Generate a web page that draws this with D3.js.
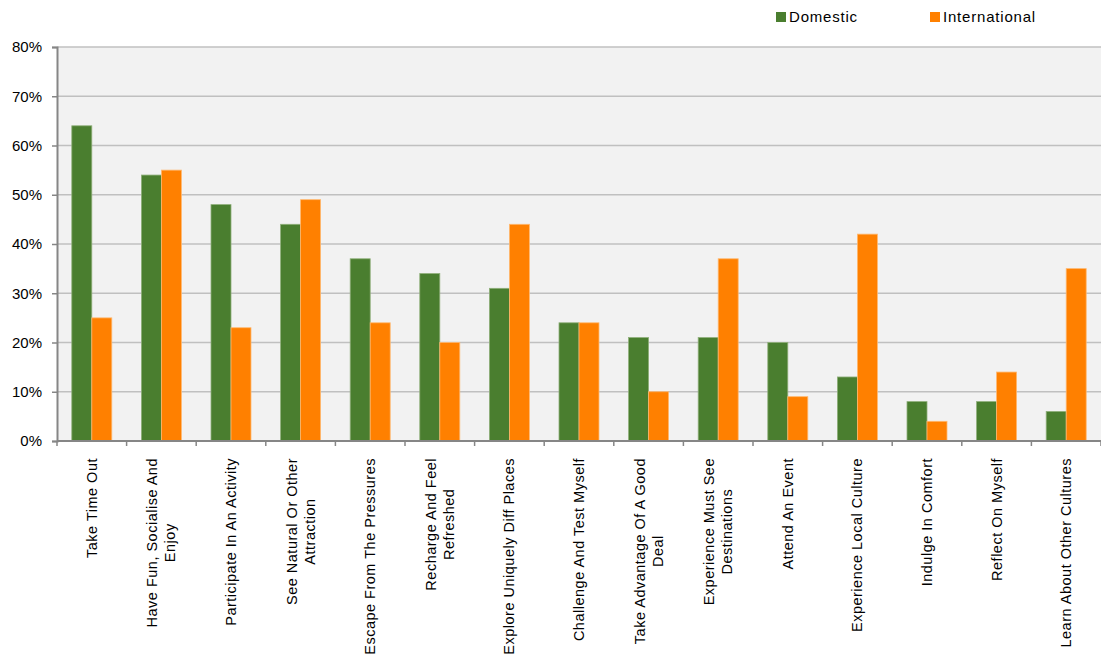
<!DOCTYPE html>
<html>
<head>
<meta charset="utf-8">
<script src="https://cdn.jsdelivr.net/npm/d3@7"></script>
<style>
  body { margin: 0; background: #fff; }
  svg text { font-family: "Liberation Sans", Arial, sans-serif; fill: #000; }
</style>
</head>
<body>
<svg id="chart" width="1101" height="657"></svg>
<script>
// chart data
const categories = [
  ["Take Time Out"],
  ["Have Fun, Socialise And", "Enjoy"],
  ["Participate In An Activity"],
  ["See Natural Or Other", "Attraction"],
  ["Escape From The Pressures"],
  ["Recharge And Feel", "Refreshed"],
  ["Explore Uniquely Diff Places"],
  ["Challenge And Test Myself"],
  ["Take Advantage Of A Good", "Deal"],
  ["Experience Must See", "Destinations"],
  ["Attend An Event"],
  ["Experience Local Culture"],
  ["Indulge In Comfort"],
  ["Reflect On Myself"],
  ["Learn About Other Cultures"]
];
const domestic = [64, 54, 48, 44, 37, 34, 31, 24, 21, 21, 20, 13, 8, 8, 6];
const international = [25, 55, 23, 49, 24, 20, 44, 24, 10, 37, 9, 42, 4, 14, 35];
const seriesNames = ["Domestic", "International"];
const colors = ["#4a7e2f", "#ff8000"];
const yTicks = [0, 10, 20, 30, 40, 50, 60, 70, 80];

const svg = d3.select("#chart");
const plotLeft = 57, plotRight = 1101, plotTop = 47, plotBottom = 441;

const x = d3.scaleBand()
  .domain(d3.range(categories.length))
  .range([plotLeft, plotRight]);

const y = d3.scaleLinear()
  .domain([0, 80])
  .range([plotBottom, plotTop]);

const xInner = d3.scaleBand()
  .domain([0, 1])
  .range([0, 40]);

// plot background
svg.append("rect")
  .attr("x", plotLeft)
  .attr("y", plotTop)
  .attr("width", plotRight - plotLeft)
  .attr("height", plotBottom - plotTop)
  .attr("fill", "#f2f2f2");

// gridlines
svg.append("g")
  .selectAll("line")
  .data(yTicks.slice(1))
  .enter()
  .append("line")
  .attr("x1", plotLeft)
  .attr("x2", plotRight)
  .attr("y1", (d) => y(d))
  .attr("y2", (d) => y(d))
  .style("stroke", "#c0c0c0")
  .style("stroke-width", 1.5);

// bars, one group per category
const groups = svg.append("g")
  .selectAll("g")
  .data(categories.map((c, i) => [domestic[i], international[i]]))
  .enter()
  .append("g")
  .attr("transform", (d, i) => `translate(${x(i) + (x.bandwidth() - 40) / 2},0)`);

groups.selectAll("rect")
  .data((d) => d)
  .enter()
  .append("rect")
  .attr("x", (d, j) => xInner(j))
  .attr("width", xInner.bandwidth())
  .attr("y", (d) => y(d))
  .attr("height", (d) => plotBottom - y(d))
  .attr("fill", (d, j) => colors[j])
  .style("stroke", (d, j) => (j === 0 ? "#8fb07a" : "#ffb870"))
  .style("stroke-width", 0.8);

// y axis
const yAxis = svg.append("g")
  .attr("transform", `translate(${plotLeft},0)`)
  .call(d3.axisLeft(y).tickValues(yTicks).tickFormat((d) => d + "%").tickSize(5).tickPadding(10));
yAxis.select(".domain").style("stroke", "#868686").style("stroke-width", 2);
yAxis.selectAll(".tick line").style("stroke", "#868686").style("stroke-width", 1.5);
yAxis.selectAll(".tick text")
  .style("font-size", "15px")
  .style("font-family", "'Liberation Sans', Arial, sans-serif")
  .attr("fill", "#000");

// x axis line and ticks at band edges
svg.append("line")
  .attr("x1", plotLeft)
  .attr("x2", plotRight)
  .attr("y1", plotBottom)
  .attr("y2", plotBottom)
  .style("stroke", "#868686")
  .style("stroke-width", 2);
svg.append("g")
  .selectAll("line")
  .data(d3.range(categories.length + 1))
  .enter()
  .append("line")
  .attr("x1", (d) => plotLeft + d * x.step())
  .attr("x2", (d) => plotLeft + d * x.step())
  .attr("y1", plotBottom)
  .attr("y2", plotBottom + 5)
  .style("stroke", "#868686")
  .style("stroke-width", 1.5);

// rotated category labels, lines centred on each other
const lineGap = 18;
categories.forEach((lines, i) => {
  const cx = x(i) + x.bandwidth() / 2;
  const g = svg.append("g")
    .attr("transform", `translate(${cx},458) rotate(-90)`);
  const texts = lines.map((t) =>
    g.append("text")
      .attr("text-anchor", "middle")
      .style("font-size", "14.5px")
      .style("letter-spacing", "0.5px")
      .text(t));
  const maxLen = d3.max(texts, (t) => t.node().getComputedTextLength());
  const n = lines.length;
  texts.forEach((t, k) => {
    t.attr("x", -maxLen / 2)
      .attr("y", 5 + (k - (n - 1) / 2) * lineGap);
  });
});

// legend
const legendX = [776, 930];
seriesNames.forEach((name, j) => {
  svg.append("rect")
    .attr("x", legendX[j])
    .attr("y", 12)
    .attr("width", 10)
    .attr("height", 10)
    .attr("fill", colors[j]);
  svg.append("text")
    .attr("x", legendX[j] + 13)
    .attr("y", 22)
    .style("font-size", "15px")
    .style("letter-spacing", "0.8px")
    .text(name);
});
</script>
</body>
</html>
